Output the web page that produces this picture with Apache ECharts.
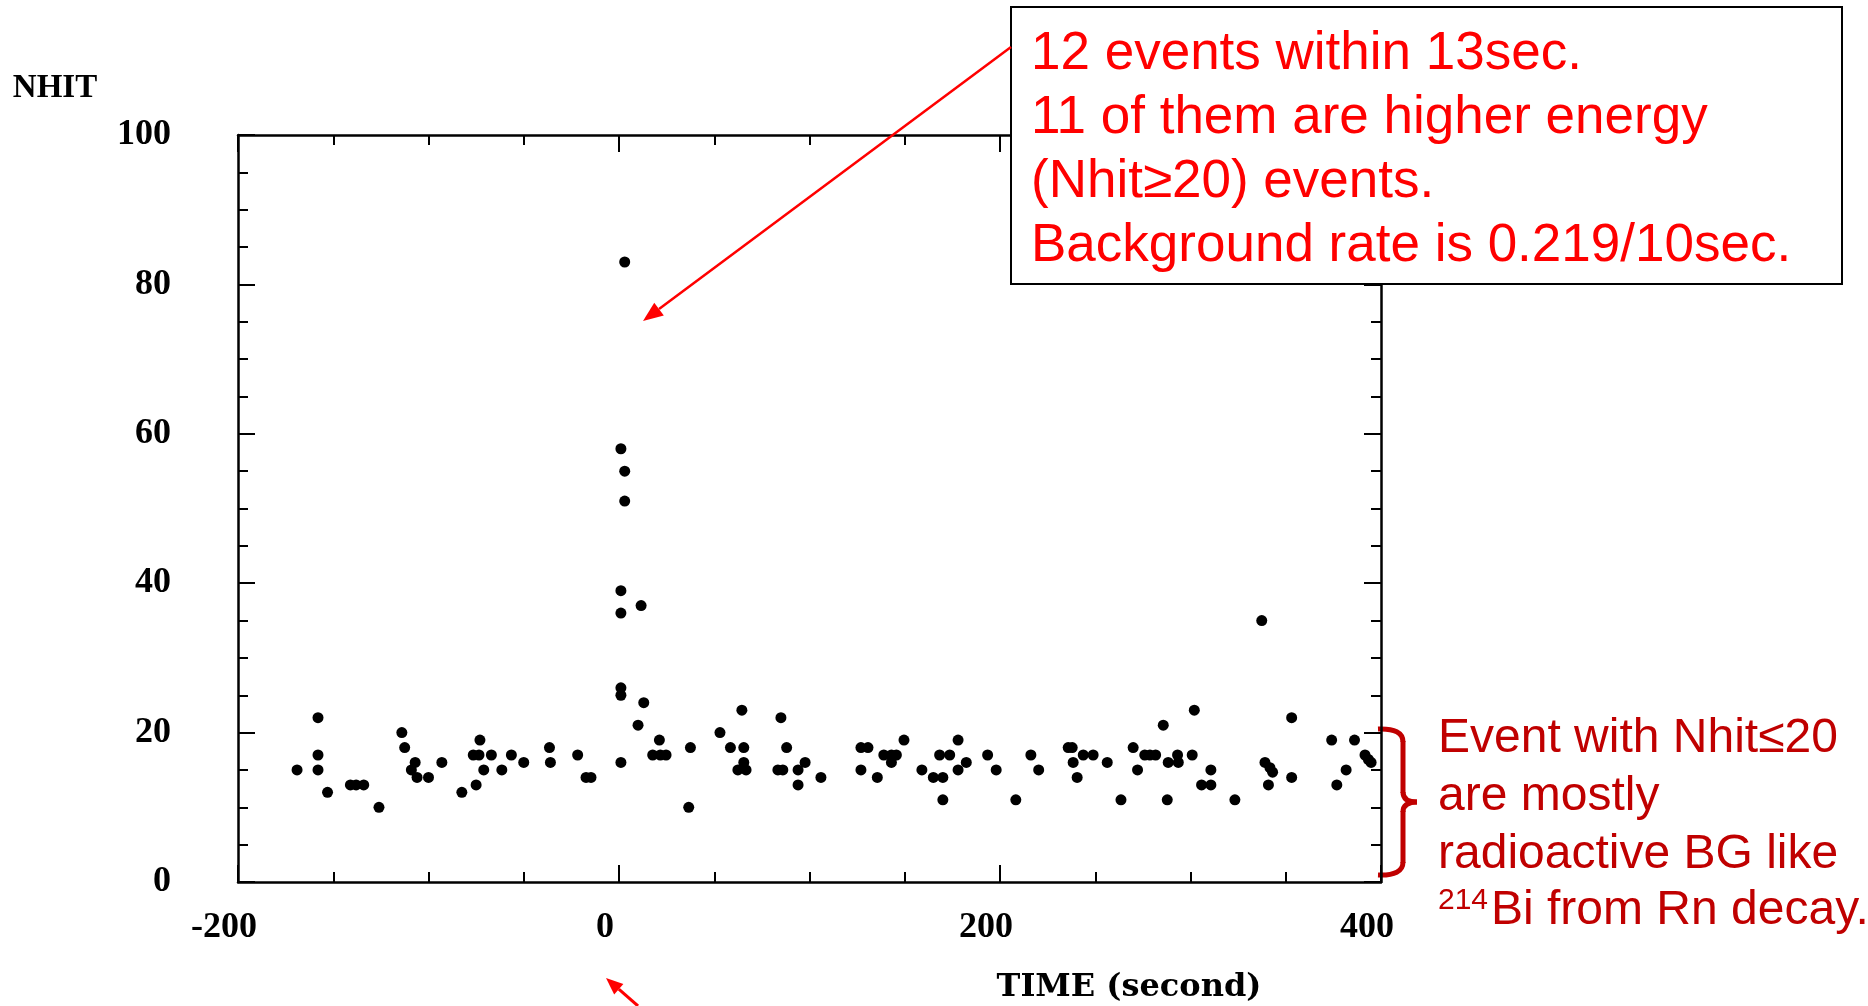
<!DOCTYPE html>
<html><head><meta charset="utf-8">
<script src="https://cdn.jsdelivr.net/npm/echarts@6/dist/echarts.min.js"></script>
<style>html,body{margin:0;padding:0;background:#fff}#c{width:1868px;height:1006px}</style>
</head><body><div id="c"></div>
<script>
// ---- data ----
const timeSec = [-169,-158,-158,-158,-153,-141,-138,-134,-126,-114,-112.5,-109,-107,-106,-100,-93,-82.5,-75,-76.5,-73.5,-73,-71,-67,-61.5,-56.5,-50,-36.5,-36,-21.7,-17.3,-14.7,
  1,1,1,1,3,3,1,1,3,11.6,10,13,
  17.7,21.7,24.7,21.2,37.5,36.6,53,58.5,64.5,65.5,65.5,62.4,66.7,85,88,83.4,86,94,97.7,94,106,127,130.7,127,135.6,139,143,145.6,143,149.6,159,165,170,170,168.3,173.6,178,178,182.3,193.5,198,208.3,216.2,220.3,235.8,237.9,238.4,240.5,243.7,248.9,256.3,263.5,269.9,272.2,276,278.7,281.7,285.7,288.3,293.2,293.6,287.8,302,300.9,305.8,310.7,310.7,323.3,337.4,339.1,341.7,343.1,340.9,353.1,353.1,374.1,376.8,381.7,386.1,391.6,393.4,394.8];
const nhit = [15,22,17,15,12,13,13,13,10,20,18,15,16,14,14,16,12,13,17,17,19,15,17,15,17,16,18,16,17,14,14,
  16,26,25,58,55,51,39,36,83,37,21,24,
  17,17,17,19,18,10,20,18,23,18,16,15,15,22,18,15,15,15,16,13,14,18,18,15,14,17,17,17,16,19,15,14,14,11,17,17,19,15,16,17,15,11,17,15,18,18,16,14,17,17,16,11,18,15,17,17,17,21,16,17,16,11,23,17,13,13,15,11,35,16,15.3,14.7,13,22,14,19,13,15,19,17,16.4,16];
const xTickLabels = [-200, 0, 200, 400];
const yTickLabels = [0, 20, 40, 60, 80, 100];
const boxLines = ['12 events within 13sec.', '11 of them are higher energy', '(Nhit\u226520) events.', 'Background rate is 0.219/10sec.'];
const sideLines = ['Event with Nhit\u226420', 'are mostly', 'radioactive BG like'];
const sideLast = {sup: '214', text: 'Bi from Rn decay.'};

const pts = timeSec.map((t, i) => [t, nhit[i]]);
const xMin = xTickLabels[0], xMax = xTickLabels[xTickLabels.length-1], xInt = xTickLabels[1]-xTickLabels[0];
const yMin = yTickLabels[0], yMax = yTickLabels[yTickLabels.length-1], yInt = yTickLabels[1]-yTickLabels[0];

const serif = '"Liberation Serif", "DejaVu Serif", serif';
const lineSt = {color:'#000', width:2.5};
const tickSt = {color:'#000', width:2};

function xAxisCfg(pos, show){
  return {type:'value', position:pos, min:xMin, max:xMax, interval:xInt,
    axisLine:{show:true, onZero:false, lineStyle:lineSt},
    axisTick:{show:true, inside:true, length:17, lineStyle:tickSt},
    minorTick:{show:true, splitNumber:4, length:10, lineStyle:tickSt},
    splitLine:{show:false}, minorSplitLine:{show:false},
    axisLabel:{show:show, margin:28, color:'#000', fontFamily:serif, fontWeight:'bold', fontSize:36, padding:[0,28,0,0]}};
}
function yAxisCfg(pos, show){
  return {type:'value', position:pos, min:yMin, max:yMax, interval:yInt,
    axisLine:{show:true, onZero:false, lineStyle:lineSt},
    axisTick:{show:true, inside:true, length:17, lineStyle:tickSt},
    minorTick:{show:true, splitNumber:4, length:10, lineStyle:tickSt},
    splitLine:{show:false}, minorSplitLine:{show:false},
    axisLabel:{show:show, margin:67, color:'#000', fontFamily:serif, fontWeight:'bold', fontSize:36}};
}

function arrow(x1, y1, x2, y2, color, w, hl, hw){
  const dx = x2-x1, dy = y2-y1, L = Math.hypot(dx, dy), ux = dx/L, uy = dy/L;
  const bx = x2-ux*hl, by = y2-uy*hl, nx = -uy, ny = ux;
  return [
    {type:'line', shape:{x1:x1, y1:y1, x2:bx, y2:by}, style:{stroke:color, lineWidth:w}, z:100},
    {type:'polygon', shape:{points:[[x2,y2],[bx+nx*hw, by+ny*hw],[bx-nx*hw, by-ny*hw]]}, style:{fill:color}, z:100}
  ];
}

const red = '#FF0000', dred = '#C00000';
const sans = '"Liberation Sans", Arial, sans-serif';
const graphics = [
  {type:'text', x:55, y:88, style:{text:'NHIT', fill:'#000', fontFamily:serif, fontWeight:'bold', fontSize:33, textAlign:'center', textVerticalAlign:'middle'}},
  {type:'text', x:1129, y:988, style:{text:'TIME (second)', fill:'#000', fontFamily:'"DejaVu Serif", serif', fontWeight:'bold', fontSize:32, textAlign:'center', textVerticalAlign:'middle'}},
  {type:'rect', shape:{x:1011, y:7, width:831, height:277}, style:{fill:'#fff', stroke:'#000', lineWidth:2}, z:90},
  {type:'text', x:1031, y:150, z:95, style:{text:boxLines.join('\n'), fill:red, fontFamily:sans, fontSize:53, lineHeight:64, textAlign:'left', textVerticalAlign:'middle'}},
  {type:'text', x:1438, y:797, z:95, style:{text:sideLines.join('\n'), fill:dred, fontFamily:sans, fontSize:48, lineHeight:58, textAlign:'left', textVerticalAlign:'middle'}},
  {type:'text', x:1438, y:901, z:95, style:{text:sideLast.sup, fill:dred, fontFamily:sans, fontSize:30, textAlign:'left', textVerticalAlign:'middle'}},
  {type:'text', x:1491, y:911, z:95, style:{text:sideLast.text, fill:dred, fontFamily:sans, fontSize:48, textAlign:'left', textVerticalAlign:'middle'}},
  // brace
  {type:'bezierCurve', shape:{x1:1378,y1:729,cpx1:1403,cpy1:728,x2:1403,y2:742}, style:{stroke:dred, lineWidth:5, fill:null}},
  {type:'line', shape:{x1:1403,y1:741,x2:1403,y2:793}, style:{stroke:dred, lineWidth:5}},
  {type:'bezierCurve', shape:{x1:1403,y1:792,cpx1:1403,cpy1:802,x2:1417,y2:802}, style:{stroke:dred, lineWidth:5, fill:null}},
  {type:'bezierCurve', shape:{x1:1417,y1:802,cpx1:1403,cpy1:802,x2:1403,y2:812}, style:{stroke:dred, lineWidth:5, fill:null}},
  {type:'line', shape:{x1:1403,y1:811,x2:1403,y2:863}, style:{stroke:dred, lineWidth:5}},
  {type:'bezierCurve', shape:{x1:1403,y1:862,cpx1:1403,cpy1:876,x2:1378,y2:875}, style:{stroke:dred, lineWidth:5, fill:null}},
  ...arrow(1011, 47, 643, 321, red, 2.5, 20, 8),
  ...arrow(638, 1006, 606, 978, red, 3, 17, 7)
];

const chart = echarts.init(document.getElementById('c'), null, {renderer:'canvas'});
chart.setOption({
  backgroundColor:'#fff',
  animation:false,
  grid:{left:238, right:487, top:135, bottom:124, containLabel:false},
  xAxis:[xAxisCfg('bottom', true), xAxisCfg('top', false)],
  yAxis:[yAxisCfg('left', true), yAxisCfg('right', false)],
  series:[{type:'scatter', xAxisIndex:0, yAxisIndex:0, data:pts, symbol:'circle', symbolSize:11,
    itemStyle:{color:'#000', opacity:1}, z:5}],
  graphic:graphics
});
</script></body></html>
